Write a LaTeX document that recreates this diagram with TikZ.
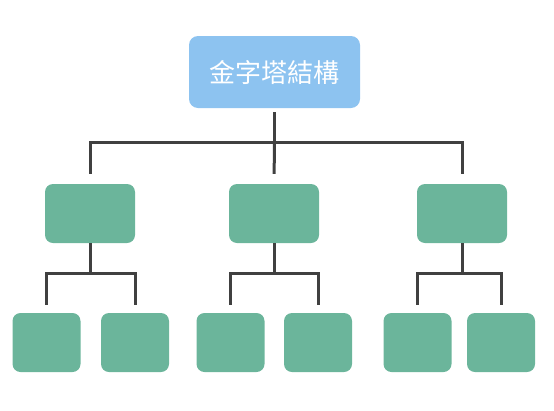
\documentclass[tikz,border=0pt]{standalone}
\usepackage{fontspec}
\newfontfamily\cjk{Noto Sans CJK TC}
\definecolor{topblue}{HTML}{8DC3F0}
\definecolor{boxgreen}{HTML}{6BB59B}
\definecolor{linegray}{HTML}{404040}
\begin{document}
\begin{tikzpicture}[x=1pt,y=-1pt]
\tikzset{every node/.style={inner sep=0pt},
  topbox/.style={fill=topblue,rounded corners=9pt,minimum width=171pt,minimum height=72pt,text=white,font=\cjk\fontsize{26}{30}\selectfont},
  midbox/.style={fill=boxgreen,rounded corners=8pt,minimum width=90pt,minimum height=59pt},
  leafbox/.style={fill=boxgreen,rounded corners=8pt,minimum width=68pt,minimum height=59pt},
  link/.style={draw=linegray,line width=3pt}}
\useasboundingbox (0,0) rectangle (554,410);
% top level
\node [topbox] (top) at (274.5,72) {金字塔結構};
% second level
\node [midbox] (m1) at (90,213.5) {};
\node [midbox] (m2) at (274,213.5) {};
\node [midbox] (m3) at (462,213.5) {};
% third level
\node [leafbox] (b1) at (46.5,342.5) {};
\node [leafbox] (b2) at (135,342.5) {};
\node [leafbox] (b3) at (230.5,342.5) {};
\node [leafbox] (b4) at (318,342.5) {};
\node [leafbox] (b5) at (417.5,342.5) {};
\node [leafbox] (b6) at (501,342.5) {};
% junctions
\coordinate (j0) at (top.south |- 0,142);
\coordinate (j1) at (m1.south |- 0,273);
\coordinate (j2) at (m2.south |- 0,273);
\coordinate (j3) at (m3.south |- 0,273);
% connectors
\draw [link,shorten <=4pt] (top.south) -- (j0);
\draw [link,shorten >=10pt] (j0) -| (m1.north);
\draw [link,shorten >=10pt] (j0) -- (m2.north);
\draw [link,shorten >=10pt] (j0) -| (m3.north);
\draw [link] (m1.south) -- (j1);
\draw [link,shorten >=8pt] (j1) -| (b1.north);
\draw [link,shorten >=8pt] (j1) -| (b2.north);
\draw [link] (m2.south) -- (j2);
\draw [link,shorten >=8pt] (j2) -| (b3.north);
\draw [link,shorten >=8pt] (j2) -| (b4.north);
\draw [link] (m3.south) -- (j3);
\draw [link,shorten >=8pt] (j3) -| (b5.north);
\draw [link,shorten >=8pt] (j3) -| (b6.north);
\end{tikzpicture}
\end{document}
